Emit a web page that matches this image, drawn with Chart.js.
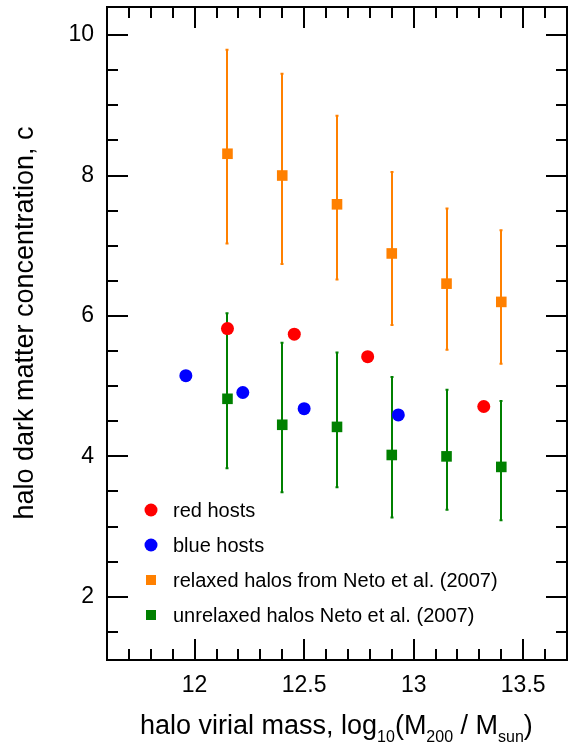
<!DOCTYPE html>
<html>
<head>
<meta charset="utf-8">
<script src="https://cdn.jsdelivr.net/npm/chart.js@4/dist/chart.umd.min.js"></script>
<style>
  html, body { margin: 0; padding: 0; background: #fff; }
  #wrap { width: 568px; height: 751px; }
</style>
</head>
<body>
<div id="wrap"><canvas id="chart" width="568" height="751"></canvas></div>
<script>
// host samples
const redMass = [12.15, 12.455, 12.79, 13.32];
const redConc = [5.82, 5.74, 5.42, 4.71];
const blueMass = [11.96, 12.22, 12.50, 12.93];
const blueConc = [5.15, 4.91, 4.68, 4.59];

// Neto et al. (2007) bins
const netoMass = [12.15, 12.40, 12.65, 12.90, 13.15, 13.40];
const relaxedConc = [8.31, 8.00, 7.59, 6.89, 6.46, 6.20];
const relaxedHigh = [9.79, 9.45, 8.85, 8.05, 7.53, 7.22];
const relaxedLow = [7.03, 6.74, 6.52, 5.87, 5.52, 5.32];
const unrelaxedConc = [4.82, 4.45, 4.42, 4.02, 4.00, 3.85];
const unrelaxedHigh = [6.04, 5.62, 5.48, 5.13, 4.95, 4.79];
const unrelaxedLow = [3.83, 3.49, 3.56, 3.13, 3.24, 3.09];

const xTicks = [12, 12.5, 13, 13.5];
const yTicks = [2, 4, 6, 8, 10];

const FONT = "'Liberation Sans', Arial, Helvetica, sans-serif";
const ORANGE = "#ff8000";
const GREEN = "#008000";

const points = (xs, ys) => xs.map((x, i) => ({ x, y: ys[i] }));

// vertical error bars, drawn under the markers
const errorBars = {
    id: "errorBars",
    beforeDatasetsDraw(chart){
        const { ctx, scales: { x, y } } = chart;
        chart.data.datasets.forEach(ds => {
            if(!ds.errLow) return;
            ctx.save();
            ctx.strokeStyle = ds.backgroundColor;
            ctx.lineWidth = 2;
            ds.data.forEach((p, j) => {
                const px = Math.round(x.getPixelForValue(p.x));
                const top = y.getPixelForValue(ds.errHigh[j]);
                const bot = y.getPixelForValue(ds.errLow[j]);
                ctx.beginPath();
                ctx.moveTo(px, top); ctx.lineTo(px, bot);
                ctx.moveTo(px - 1.5, top); ctx.lineTo(px + 1.5, top);
                ctx.moveTo(px - 1.5, bot); ctx.lineTo(px + 1.5, bot);
                ctx.stroke();
            });
            ctx.restore();
        });
    }
};

// box frame with inward ticks on all four sides, legend and axis titles
const frame = {
    id: "frame",
    afterDraw(chart){
        const { ctx, chartArea: a, scales: { x, y } } = chart;
        ctx.save();
        ctx.strokeStyle = "#000";
        ctx.lineWidth = 2;
        ctx.strokeRect(a.left, a.top, a.right - a.left, a.bottom - a.top);

        ctx.beginPath();
        for(let i = Math.ceil(x.min * 10); i <= Math.floor(x.max * 10); i++){
            const v = i / 10;
            const major = Math.abs(v * 2 - Math.round(v * 2)) < 1e-6;
            const len = major ? 21 : 11;
            const px = Math.round(x.getPixelForValue(v));
            ctx.moveTo(px, a.bottom); ctx.lineTo(px, a.bottom - len);
            ctx.moveTo(px, a.top); ctx.lineTo(px, a.top + len);
        }
        for(let i = Math.ceil(y.min * 2); i <= Math.floor(y.max * 2); i++){
            const v = i / 2;
            const major = v % 2 === 0;
            const len = major ? 21 : 11;
            const py = Math.round(y.getPixelForValue(v));
            ctx.moveTo(a.left, py); ctx.lineTo(a.left + len, py);
            ctx.moveTo(a.right, py); ctx.lineTo(a.right - len, py);
        }
        ctx.stroke();

        // legend
        const lx = 151, tx = 173;
        ctx.font = "20px " + FONT;
        ctx.textBaseline = "alphabetic";
        chart.data.datasets.forEach((ds, i) => {
            const ly = 510 + i * 35;
            ctx.fillStyle = ds.backgroundColor;
            ctx.beginPath();
            if(ds.pointStyle === "rect"){
                ctx.rect(lx - 5, ly - 5, 10, 10);
            } else {
                ctx.arc(lx, ly, 6.5, 0, Math.PI * 2);
            }
            ctx.fill();
            ctx.fillStyle = "#000";
            ctx.fillText(ds.label, tx, ly + 7);
        });

        // x axis title with subscripts
        const parts = [
            ["halo virial mass, log", 0], ["10", 1], ["(M", 0], ["200", 1],
            [" / M", 0], ["sun", 1], [")", 0]
        ];
        let cx = 140;
        const base = 734;
        parts.forEach(([t, sub]) => {
            ctx.font = (sub ? "16px " : "27px ") + FONT;
            ctx.fillText(t, cx, base + (sub ? 8 : 0));
            cx += ctx.measureText(t).width;
        });

        // y axis title
        ctx.translate(33, 323);
        ctx.rotate(-Math.PI / 2);
        ctx.font = "27px " + FONT;
        ctx.textAlign = "center";
        ctx.fillText("halo dark matter concentration, c", 0, 0);
        ctx.restore();
    }
};

new Chart(document.getElementById("chart"), {
    type: "scatter",
    data: {
        datasets: [{
            label: "red hosts",
            data: points(redMass, redConc),
            backgroundColor: "#ff0000",
            pointStyle: "circle",
            pointRadius: 6.5,
            pointBorderWidth: 0
        }, {
            label: "blue hosts",
            data: points(blueMass, blueConc),
            backgroundColor: "#0000ff",
            pointStyle: "circle",
            pointRadius: 6.5,
            pointBorderWidth: 0
        }, {
            label: "relaxed halos from Neto et al. (2007)",
            data: points(netoMass, relaxedConc),
            errHigh: relaxedHigh,
            errLow: relaxedLow,
            backgroundColor: ORANGE,
            pointStyle: "rect",
            pointRadius: 7.5,
            pointBorderWidth: 0
        }, {
            label: "unrelaxed halos Neto et al. (2007)",
            data: points(netoMass, unrelaxedConc),
            errHigh: unrelaxedHigh,
            errLow: unrelaxedLow,
            backgroundColor: GREEN,
            pointStyle: "rect",
            pointRadius: 7.5,
            pointBorderWidth: 0
        }]
    },
    options: {
        responsive: false,
        animation: false,
        devicePixelRatio: 1,
        layout: { autoPadding: false, padding: { left: 0, top: 7, right: 1, bottom: 0 } },
        plugins: {
            legend: { display: false },
            tooltip: { enabled: false }
        },
        scales: {
            x: {
                type: "linear",
                min: 11.6,
                max: 13.7,
                grid: { display: false, drawTicks: false },
                border: { display: false },
                afterBuildTicks: s => { s.ticks = xTicks.map(v => ({ value: v })); },
                afterFit: s => { s.height = 91; s.paddingLeft = 0; s.paddingRight = 0; },
                ticks: {
                    padding: 12,
                    maxRotation: 0,
                    autoSkip: false,
                    color: "#000",
                    font: { family: FONT, size: 23 },
                    callback: v => String(v)
                }
            },
            y: {
                type: "linear",
                min: 1.1,
                max: 10.4,
                grid: { display: false, drawTicks: false },
                border: { display: false },
                afterBuildTicks: s => { s.ticks = yTicks.map(v => ({ value: v })); },
                afterFit: s => { s.width = 107; s.paddingTop = 0; s.paddingBottom = 0; },
                ticks: {
                    padding: 13,
                    autoSkip: false,
                    color: "#000",
                    font: { family: FONT, size: 23 },
                    callback: v => String(v)
                }
            }
        }
    },
    plugins: [errorBars, frame]
});
</script>
</body>
</html>
